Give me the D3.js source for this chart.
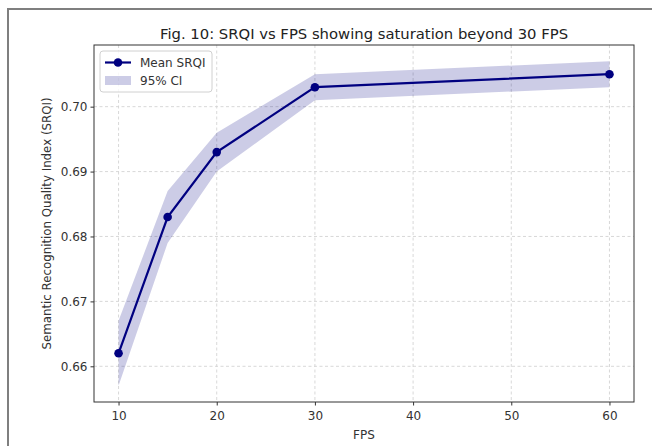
<!DOCTYPE html>
<html>
<head>
<meta charset="utf-8">
<script src="https://cdn.jsdelivr.net/npm/d3@7/dist/d3.min.js"></script>
<style>
    body { margin: 0; background: #fff; }
    svg { display: block; font-family: "DejaVu Sans", sans-serif; }
</style>
</head>
<body>
<div id="chart"></div>
<script>
// Values
const fpsValues = [10, 15, 20, 30, 60];
const meanSrqi = [0.662, 0.683, 0.693, 0.703, 0.705];
const ciLower = [0.657, 0.679, 0.690, 0.701, 0.703];
const ciUpper = [0.667, 0.687, 0.696, 0.705, 0.707];
const xTicks = [10, 20, 30, 40, 50, 60];
const yTicks = [0.66, 0.67, 0.68, 0.69, 0.70];

const svgWidth = 652, svgHeight = 446;
const margin = { top: 45, right: 18, bottom: 44, left: 94 };
const lineColor = "#000080";

function padded(lo, hi) {
    const pad = (hi - lo) * 0.05;
    return [lo - pad, hi + pad];
}

function drawChart() {
    const rows = fpsValues.map((f, i) => ({ fps: f, mean: meanSrqi[i], lo: ciLower[i], hi: ciUpper[i] }));

    const svg = d3.select("#chart")
        .append("svg")
        .attr("width", svgWidth)
        .attr("height", svgHeight);

    // outer frame (only top and left edges show in the picture)
    svg.append("path")
        .attr("d", `M8,${svgHeight} L8,9 L${svgWidth},9`)
        .attr("fill", "none")
        .attr("stroke", "#7f7f7f")
        .attr("stroke-width", 2);

    const x = d3.scaleLinear()
        .domain(padded(d3.min(fpsValues), d3.max(fpsValues)))
        .range([margin.left, svgWidth - margin.right]);

    const y = d3.scaleLinear()
        .domain(padded(d3.min(ciLower), d3.max(ciUpper)))
        .range([svgHeight - margin.bottom, margin.top]);

    // grid
    const grid = svg.append("g").attr("class", "grid")
        .attr("stroke", "#d4d4d4")
        .attr("stroke-width", 0.9)
        .attr("stroke-dasharray", "3,2.5");

    grid.selectAll(".gx").data(xTicks).enter()
        .append("line")
        .attr("x1", d => x(d)).attr("x2", d => x(d))
        .attr("y1", margin.top).attr("y2", svgHeight - margin.bottom);

    grid.selectAll(".gy").data(yTicks).enter()
        .append("line")
        .attr("x1", margin.left).attr("x2", svgWidth - margin.right)
        .attr("y1", d => y(d)).attr("y2", d => y(d));

    // confidence band
    const band = d3.area()
        .x(d => x(d.fps))
        .y0(d => y(d.lo))
        .y1(d => y(d.hi));

    svg.append("path")
        .datum(rows)
        .attr("d", band)
        .attr("fill", lineColor)
        .attr("fill-opacity", 0.2);

    // mean line + markers
    const line = d3.line()
        .x(d => x(d.fps))
        .y(d => y(d.mean));

    svg.append("path")
        .datum(rows)
        .attr("d", line)
        .attr("fill", "none")
        .attr("stroke", lineColor)
        .attr("stroke-width", 2.2);

    svg.selectAll(".dot").data(rows).enter()
        .append("circle")
        .attr("class", "dot")
        .attr("cx", d => x(d.fps))
        .attr("cy", d => y(d.mean))
        .attr("r", 4.3)
        .attr("fill", lineColor);

    // axes
    const xAxis = svg.append("g")
        .attr("transform", `translate(0,${svgHeight - margin.bottom})`)
        .call(d3.axisBottom(x).tickValues(xTicks).tickSize(3.5).tickPadding(5.5).tickSizeOuter(0));

    const yAxis = svg.append("g")
        .attr("transform", `translate(${margin.left},0)`)
        .call(d3.axisLeft(y).tickValues(yTicks).tickFormat(d3.format(".2f")).tickSize(3.5).tickPadding(3).tickSizeOuter(0));

    [xAxis, yAxis].forEach(a => {
        a.select(".domain").remove();
        a.selectAll("line").attr("stroke", "#333");
        a.selectAll("text").attr("fill", "#333").style("font-size", "12px").style("font-family", "DejaVu Sans, sans-serif");
    });

    // plot frame
    svg.append("rect")
        .attr("x", margin.left)
        .attr("y", margin.top)
        .attr("width", svgWidth - margin.left - margin.right)
        .attr("height", svgHeight - margin.top - margin.bottom)
        .attr("fill", "none")
        .attr("stroke", "#333")
        .attr("stroke-width", 1);

    // titles
    const cx = (margin.left + svgWidth - margin.right) / 2;

    svg.append("text")
        .attr("x", cx)
        .attr("y", 39)
        .attr("text-anchor", "middle")
        .attr("fill", "#222")
        .style("font-size", "14.8px")
        .text("Fig. 10: SRQI vs FPS showing saturation beyond 30 FPS");

    svg.append("text")
        .attr("x", cx)
        .attr("y", 439)
        .attr("text-anchor", "middle")
        .attr("fill", "#333")
        .style("font-size", "12px")
        .text("FPS");

    svg.append("text")
        .attr("transform", `translate(51,${(margin.top + svgHeight - margin.bottom) / 2}) rotate(-90)`)
        .attr("text-anchor", "middle")
        .attr("fill", "#333")
        .style("font-size", "11.8px")
        .text("Semantic Recognition Quality Index (SRQI)");

    drawLegend(svg);
}

function drawLegend(svg) {
    const g = svg.append("g").attr("transform", "translate(100,51)");

    g.append("rect")
        .attr("width", 112)
        .attr("height", 41)
        .attr("rx", 3)
        .attr("fill", "#fff")
        .attr("fill-opacity", 0.8)
        .attr("stroke", "#d0d0d0");

    g.append("line")
        .attr("x1", 5).attr("x2", 31)
        .attr("y1", 11.5).attr("y2", 11.5)
        .attr("stroke", lineColor)
        .attr("stroke-width", 2.2);

    g.append("circle")
        .attr("cx", 18).attr("cy", 11.5).attr("r", 4.3)
        .attr("fill", lineColor);

    g.append("rect")
        .attr("x", 5).attr("y", 25)
        .attr("width", 26).attr("height", 9)
        .attr("fill", lineColor)
        .attr("fill-opacity", 0.2);

    g.selectAll(".lbl").data(["Mean SRQI", "95% CI"]).enter()
        .append("text")
        .attr("x", 40)
        .attr("y", (d, i) => 15.5 + i * 18)
        .attr("fill", "#333")
        .style("font-size", "12px")
        .text(d => d);
}

document.addEventListener("DOMContentLoaded", drawChart);
</script>
</body>
</html>
